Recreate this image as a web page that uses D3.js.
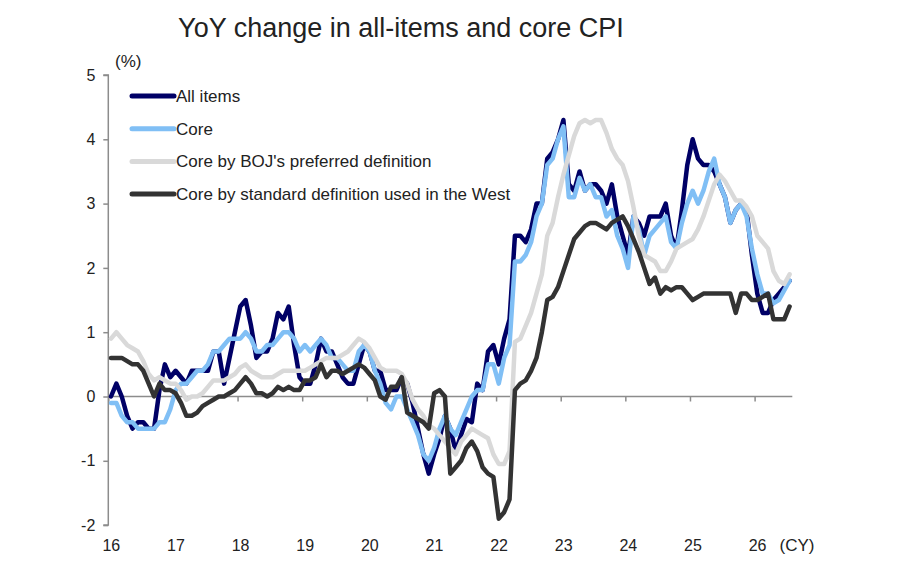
<!DOCTYPE html>
<html lang="en">
<head>
    <meta charset="UTF-8">
    <title>YoY change in all-items and core CPI</title>
    <script src="https://d3js.org/d3.v7.min.js"></script>
    <style>
        body {
            margin: 0;
            padding: 0;
            background: #fff;
        }

        svg text {
            font-family: "Liberation Sans", Arial, sans-serif;
            fill: #222;
        }

        .axis-line {
            stroke: #8c8c8c;
            stroke-width: 1.5px;
        }

        .series {
            fill: none;
            stroke-width: 4.5px;
            stroke-linejoin: round;
            stroke-linecap: round;
        }
    </style>
</head>
<body>
    <div id="chart"></div>

    <script>
        // monthly YoY % from Jan 2016 to Jul 2026 (127 months)
        const allItems = [
            0.0, 0.2, 0.0, -0.3, -0.5, -0.4, -0.4, -0.5, -0.5, 0.1, 0.5, 0.3,      // 2016
            0.4, 0.3, 0.2, 0.4, 0.4, 0.4, 0.4, 0.7, 0.7, 0.2, 0.6, 1.0,            // 2017
            1.4, 1.5, 1.1, 0.6, 0.7, 0.7, 0.9, 1.3, 1.2, 1.4, 0.8, 0.3,            // 2018
            0.2, 0.2, 0.5, 0.9, 0.7, 0.7, 0.5, 0.3, 0.2, 0.2, 0.5, 0.8,            // 2019
            0.7, 0.4, 0.4, 0.1, 0.1, 0.1, 0.3, 0.2, -0.1, -0.5, -0.9, -1.2,        // 2020
            -0.9, -0.65, -0.3, -0.5, -0.85, -0.6, -0.35, -0.4, 0.2, 0.1, 0.7, 0.8, // 2021
            0.5, 0.9, 1.2, 2.5, 2.5, 2.4, 2.6, 3.0, 3.0, 3.7, 3.8, 4.0,            // 2022
            4.3, 3.3, 3.2, 3.5, 3.2, 3.3, 3.3, 3.2, 3.0, 3.3, 2.8, 2.5,            // 2023
            2.2, 2.8, 2.7, 2.5, 2.8, 2.8, 2.8, 3.0, 2.5, 2.3, 2.9, 3.6,            // 2024
            4.0, 3.7, 3.6, 3.6, 3.5, 3.3, 3.1, 2.7, 2.9, 3.0, 2.9, 2.2,            // 2025
            1.6, 1.3, 1.3, 1.5, 1.6, 1.7, 1.8                                      // 2026
        ];

        const core = [
            -0.1, -0.1, -0.3, -0.4, -0.4, -0.5, -0.5, -0.5, -0.5, -0.4, -0.4, -0.2,
            0.1, 0.2, 0.2, 0.3, 0.4, 0.4, 0.5, 0.7, 0.7, 0.8, 0.9, 0.9,
            0.9, 1.0, 0.9, 0.7, 0.7, 0.8, 0.8, 0.9, 1.0, 1.0, 0.9, 0.7,
            0.8, 0.7, 0.8, 0.9, 0.8, 0.6, 0.6, 0.5, 0.4, 0.4, 0.7, 0.8,
            0.7, 0.4, 0.2, -0.1, -0.2, 0.0, 0.0, -0.2, -0.4, -0.6, -0.9, -1.0,
            -0.8, -0.5, -0.3, -0.5, -0.6, -0.4, -0.2, 0.0, 0.1, 0.1, 0.5, 0.5,
            0.2, 0.6, 0.8, 2.1, 2.1, 2.2, 2.4, 2.8, 3.0, 3.6, 3.7, 4.0,
            4.2, 3.1, 3.1, 3.4, 3.2, 3.3, 3.1, 3.1, 2.8, 2.9, 2.5, 2.3,
            2.0, 2.8, 2.6, 2.2, 2.5, 2.6, 2.7, 2.8, 2.4, 2.3, 2.7, 3.0,
            3.2, 3.0, 3.2, 3.5, 3.7, 3.3, 3.1, 2.7, 2.9, 3.0, 2.8, 2.3,
            1.9, 1.6, 1.6, 1.45, 1.5, 1.65, 1.8
        ];

        const bojCore = [
            0.9, 1.0, 0.9, 0.8, 0.75, 0.7, 0.55, 0.35, 0.25, 0.3, 0.25, 0.2,
            0.2, 0.1, -0.05, 0.0, 0.0, 0.05, 0.15, 0.25, 0.25, 0.25, 0.3, 0.35,
            0.45, 0.5, 0.4, 0.35, 0.3, 0.3, 0.3, 0.35, 0.4, 0.4, 0.4, 0.4,
            0.4, 0.45, 0.5, 0.55, 0.6, 0.6, 0.6, 0.65, 0.7, 0.8, 0.9, 0.85,
            0.75, 0.6, 0.45, 0.4, 0.4, 0.4, 0.35, 0.2, -0.05, -0.2, -0.3, -0.45,
            -0.5, -0.6, -0.7, -0.8, -0.9, -0.7, -0.6, -0.5, -0.55, -0.6, -0.65, -0.9,
            -1.05, -1.05, -0.85, 0.85, 0.9, 1.1, 1.3, 1.6, 1.9, 2.5, 2.7, 3.1,
            3.45, 3.75, 4.05, 4.25, 4.3, 4.25, 4.3, 4.3, 4.1, 3.85, 3.7, 3.6,
            3.35, 2.95, 2.5, 2.2, 2.15, 2.1, 1.95, 1.95, 2.1, 2.3, 2.35, 2.4,
            2.45, 2.6, 2.8, 3.05, 3.3, 3.45, 3.35, 3.2, 3.05, 3.05, 2.95, 2.8,
            2.5, 2.4, 2.3, 1.95, 1.8, 1.75, 1.9
        ];

        const westCore = [
            0.6, 0.6, 0.6, 0.55, 0.5, 0.5, 0.4, 0.2, 0.0, 0.2, 0.1, 0.1,
            0.05, -0.1, -0.3, -0.3, -0.25, -0.15, -0.1, -0.05, 0.0, 0.0, 0.05, 0.1,
            0.2, 0.3, 0.2, 0.05, 0.05, 0.0, 0.05, 0.15, 0.1, 0.15, 0.1, 0.1,
            0.25, 0.25, 0.3, 0.5, 0.3, 0.4, 0.4, 0.35, 0.4, 0.45, 0.5, 0.45,
            0.35, 0.25, 0.0, -0.05, 0.15, 0.15, 0.3, -0.25, -0.3, -0.35, -0.4, -0.5,
            0.05, 0.1, 0.0, -1.2, -1.1, -1.0, -0.8, -0.7, -0.85, -1.1, -1.2, -1.25,
            -1.9, -1.8, -1.6, 0.1, 0.2, 0.25, 0.4, 0.6, 1.0, 1.5, 1.55, 1.7,
            1.95, 2.2, 2.45, 2.55, 2.65, 2.7, 2.7, 2.65, 2.6, 2.7, 2.75, 2.8,
            2.65, 2.45, 2.25, 2.0, 1.75, 1.85, 1.6, 1.7, 1.65, 1.7, 1.7, 1.6,
            1.5, 1.55, 1.6, 1.6, 1.6, 1.6, 1.6, 1.6, 1.3, 1.6, 1.6, 1.5,
            1.5, 1.55, 1.6, 1.2, 1.2, 1.2, 1.4
        ];

        const seriesNames = [
            "All items",
            "Core",
            "Core by BOJ's preferred definition",
            "Core by standard definition used in the West"
        ];
        const seriesColors = ["#000066", "#80bff5", "#d9d9d9", "#333333"];
        const seriesValues = [allItems, core, bojCore, westCore];

        const yearLabels = ["16", "17", "18", "19", "20", "21", "22", "23", "24", "25", "26"];
        const yTicks = [-2, -1, 0, 1, 2, 3, 4, 5];
        const totalMonths = 127;

        const width = 900;
        const height = 571;
        const plot = { left: 108.3, right: 792.3, top: 75, bottom: 525.1 };

        const svg = d3.select("#chart").append("svg")
            .attr("width", width)
            .attr("height", height);

        // month index -> x, each month sits in the middle of its slot
        const x = d3.scaleLinear().domain([0, totalMonths]).range([plot.left, plot.right]);
        const y = d3.scaleLinear().domain([-2, 5]).range([plot.bottom, plot.top]);

        // title
        svg.append("text")
            .attr("x", 401)
            .attr("y", 37)
            .attr("text-anchor", "middle")
            .style("font-size", "27px")
            .text("YoY change in all-items and core CPI");

        svg.append("text")
            .attr("x", 115)
            .attr("y", 67)
            .style("font-size", "17px")
            .text("(%)");

        // y axis
        const yAxis = d3.axisLeft(y).tickValues(yTicks).tickSize(5).tickPadding(8)
            .tickFormat(d => String(d));
        const gy = svg.append("g")
            .attr("transform", `translate(${plot.left},0)`)
            .call(yAxis);
        gy.select(".domain").attr("class", "axis-line").attr("d", `M-5,${y(5)}H0V${y(-2)}H-5`);
        gy.selectAll(".tick line").attr("stroke", "#8c8c8c").attr("stroke-width", 1.5);
        gy.selectAll(".tick text")
            .style("font-size", "16px")
            .style("font-family", "Liberation Sans, Arial, sans-serif")
            .attr("fill", "#222");

        // x axis along zero
        const yearTicks = yearLabels.map((d, i) => i * 12);
        const xAxis = d3.axisBottom(x).tickValues(yearTicks).tickSize(5).tickFormat("");
        const gx = svg.append("g")
            .attr("transform", `translate(0,${y(0)})`)
            .call(xAxis);
        gx.select(".domain").attr("class", "axis-line").attr("d", `M${plot.left},0H${plot.right}`);
        gx.selectAll(".tick line").attr("stroke", "#8c8c8c").attr("stroke-width", 1.5);

        svg.append("g").selectAll("text")
            .data(yearLabels)
            .join("text")
            .attr("x", (d, i) => x(i * 12) + 3)
            .attr("y", 551)
            .attr("text-anchor", "middle")
            .style("font-size", "16px")
            .text(d => d);

        svg.append("text")
            .attr("x", 797)
            .attr("y", 551)
            .attr("text-anchor", "middle")
            .style("font-size", "17px")
            .text("(CY)");

        // series lines
        const line = d3.line()
            .x((d, i) => x(i + 0.5))
            .y(d => y(d));

        svg.append("g").selectAll("path")
            .data(seriesValues)
            .join("path")
            .attr("class", "series")
            .attr("stroke", (d, i) => seriesColors[i])
            .attr("d", line);

        // legend
        const legend = svg.append("g").selectAll("g")
            .data(seriesNames)
            .join("g")
            .attr("transform", (d, i) => `translate(0,${96 + i * 32.7})`);

        legend.append("line")
            .attr("x1", 132)
            .attr("x2", 174)
            .attr("stroke", (d, i) => seriesColors[i])
            .attr("stroke-width", 5)
            .attr("stroke-linecap", "round");

        legend.append("text")
            .attr("x", 176)
            .attr("y", 6)
            .style("font-size", "17px")
            .text(d => d);
    </script>
</body>
</html>
